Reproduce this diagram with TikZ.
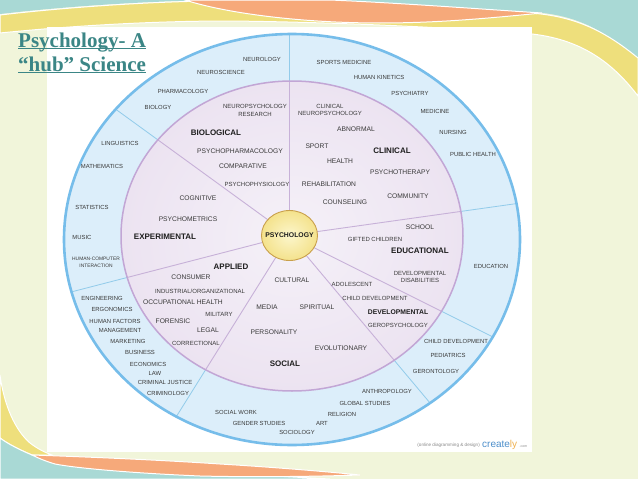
\documentclass[tikz,border=0pt]{standalone}
\usepackage{fontspec}
\setmainfont{Liberation Sans}
\newfontfamily\titlefont{Liberation Serif}
\usetikzlibrary{calc}
\definecolor{bgpale}{HTML}{F1F5DA}
\definecolor{teal1}{HTML}{A9D9D5}
\definecolor{orange1}{HTML}{F6A97A}
\definecolor{yellow1}{HTML}{EEDF7C}
\definecolor{titlecol}{HTML}{3B8686}
\definecolor{ringblue}{HTML}{DCEEFA}
\definecolor{ringblueline}{HTML}{76BDEA}
\definecolor{spokeblue}{HTML}{92CBEA}
\definecolor{innerlight}{HTML}{F5F1F8}
\definecolor{innerdark}{HTML}{ECE3F1}
\definecolor{ringpurpleline}{HTML}{C2A6D5}
\definecolor{spokepurple}{HTML}{C7B1D8}
\definecolor{hublight}{HTML}{FCF6CC}
\definecolor{hubdark}{HTML}{F4E28C}
\definecolor{hubline}{HTML}{C9A04C}
\definecolor{txt}{HTML}{3A3A3A}
\definecolor{txtdark}{HTML}{1E1E1E}
\definecolor{crblue}{HTML}{4D8FCB}
\definecolor{crorange}{HTML}{F0B251}
\definecolor{crgray}{HTML}{8A8A8A}
\tikzset{
  outerterm/.style={font=\fontsize{5.9}{7}\selectfont, text=txt, inner sep=0pt, align=center},
  tinyterm/.style={font=\fontsize{4.9}{7}\selectfont, text=txt, inner sep=0pt, align=center},
  innerterm/.style={font=\fontsize{6.7}{8}\selectfont, text=txt, inner sep=0pt, align=center},
  smallterm/.style={font=\fontsize{6}{7.6}\selectfont, text=txt, inner sep=0pt, align=center},
  category/.style={font=\bfseries\fontsize{8}{9}\selectfont, text=txtdark, inner sep=0pt},
  smallcategory/.style={font=\bfseries\fontsize{6.8}{8}\selectfont, text=txtdark, inner sep=0pt},
  hubtext/.style={font=\bfseries\fontsize{6.85}{8}\selectfont, text=txtdark, inner sep=0pt},
  spokeout/.style={draw=spokeblue, line width=0.8pt},
  spokein/.style={draw=spokepurple, line width=0.9pt},
  titlest/.style={font=\titlefont\bfseries\fontsize{21}{24}\selectfont, text=titlecol, inner sep=0pt},
  crsmall/.style={font=\fontsize{4.6}{5}\selectfont, text=crgray, inner sep=0pt},
  edge/.style={draw=white, line width=1pt},
}
\begin{document}
\begin{tikzpicture}[x=1pt,y=-1pt]
\useasboundingbox (0,0) rectangle (638,479);
\fill[bgpale] (0,0) rectangle (638,479);
% --- top decoration
\fill[teal1] (0,0) -- (638,0) -- (638,60) .. controls (605,30) and (575,14) .. (530,12) .. controls (420,6) and (300,1) .. (210,0) .. controls (130,2) and (60,7) .. (0,14) -- cycle;
\filldraw[fill=yellow1, edge] (0,15) .. controls (60,8) and (140,2) .. (210,1) .. controls (330,3) and (450,8) .. (530,13) .. controls (575,16) and (605,31) .. (638,58) -- (638,96) .. controls (615,66) and (585,40) .. (532,34) .. controls (430,26) and (320,22) .. (230,21) .. controls (150,21) and (70,26) .. (0,33) -- cycle;
\filldraw[fill=orange1, edge] (185,0) -- (330,0) .. controls (400,3) and (480,9) .. (542,13) .. controls (490,18) and (440,23) .. (380,23) .. controls (300,23) and (225,13) .. (185,0) -- cycle;
% --- bottom-left decoration
\filldraw[fill=yellow1, edge] (0,375) .. controls (4,405) and (15,430) .. (30,443) .. controls (38,449) and (44,452) .. (52,455) -- (32,455) .. controls (20,450) and (8,444) .. (0,438) -- cycle;
\filldraw[fill=teal1, edge] (0,438) .. controls (8,444) and (20,450) .. (32,455) .. controls (90,466) and (200,472) .. (330,479) -- (0,479) -- cycle;
\filldraw[fill=orange1, edge] (32,455) .. controls (90,457) and (160,460) .. (220,464) .. controls (270,467) and (320,471) .. (360,475) .. controls (300,477) and (240,477) .. (200,476) .. controls (130,473) and (75,468) .. (55,464) .. controls (45,461) and (38,458) .. (32,455) -- cycle;
% --- white panel
\fill[white] (47,27) rectangle (532,452);
% --- rings
\coordinate (hubc) at (289.5,235.5);
\coordinate (outc) at (292,239.5);
\coordinate (innc) at (292,236);
\fill[ringblue] (outc) ellipse [x radius=228pt, y radius=205.5pt];
\begin{scope}
  \clip (outc) ellipse [x radius=227pt, y radius=204.5pt];
  \foreach \a in {90,144,194.5,238,310,333.5,8} \draw[spokeout] (hubc) -- ++(-\a:320);
\end{scope}
\shade[inner color=innerlight, outer color=innerdark] (innc) ellipse [x radius=171pt, y radius=155pt];
\begin{scope}
  \clip (innc) ellipse [x radius=171pt, y radius=155pt];
  \foreach \a in {90,144,194.5,238,310,333.5,8} \draw[spokein] (hubc) -- ++(-\a:250);
\end{scope}
\draw[ringpurpleline, line width=1.5pt] (innc) ellipse [x radius=171pt, y radius=155pt];
\draw[ringblueline, line width=2.6pt] (outc) ellipse [x radius=228pt, y radius=205.5pt];
\shade[inner color=hublight, outer color=hubdark] (hubc) ellipse [x radius=28pt, y radius=25pt];
\draw[hubline, line width=0.9pt] (hubc) ellipse [x radius=28pt, y radius=25pt];
\node[hubtext] (hub) at (hubc) {PSYCHOLOGY};
% --- title
\node[titlest, anchor=base west] (t1) at (18,47) {Psychology- A};
\node[titlest, anchor=base west] (t2) at (18,71) {“hub” Science};
\draw[titlecol, line width=1.1pt] ([yshift=-1.6pt]t1.base west) -- ([yshift=-1.6pt]t1.base east);
\draw[titlecol, line width=1.1pt] ([yshift=-1.6pt]t2.base west) -- ([yshift=-1.6pt]t2.base east);
% --- outer ring terms
\node[outerterm] (o1) at (262,59) {NEUROLOGY};
\node[outerterm] (o2) at (221,72) {NEUROSCIENCE};
\node[outerterm] (o3) at (183,91) {PHARMACOLOGY};
\node[outerterm] (o4) at (158,107) {BIOLOGY};
\node[outerterm] (o5) at (344,62) {SPORTS MEDICINE};
\node[outerterm] (o6) at (379,77) {HUMAN KINETICS};
\node[outerterm] (o7) at (410,93) {PSYCHIATRY};
\node[outerterm] (o8) at (435,111) {MEDICINE};
\node[outerterm] (o9) at (453,132) {NURSING};
\node[outerterm] (o10) at (473,154) {PUBLIC HEALTH};
\node[outerterm] (o11) at (120,143) {LINGUISTICS};
\node[outerterm] (o12) at (102,166) {MATHEMATICS};
\node[outerterm] (o13) at (92,207) {STATISTICS};
\node[outerterm] (o14) at (82,237) {MUSIC};
\node[tinyterm] (o15) at (96,262.5) {HUMAN-COMPUTER\\INTERACTION};
\node[outerterm] (o16) at (102,298) {ENGINEERING};
\node[outerterm] (o17) at (112,309) {ERGONOMICS};
\node[outerterm] (o18) at (115,321) {HUMAN FACTORS};
\node[outerterm] (o19) at (120,330) {MANAGEMENT};
\node[outerterm] (o20) at (128,341) {MARKETING};
\node[outerterm] (o21) at (140,352) {BUSINESS};
\node[outerterm] (o22) at (148,364) {ECONOMICS};
\node[outerterm] (o23) at (155,373) {LAW};
\node[outerterm] (o24) at (165,382) {CRIMINAL JUSTICE};
\node[outerterm] (o25) at (168,393) {CRIMINOLOGY};
\node[outerterm] (o26) at (236,412) {SOCIAL WORK};
\node[outerterm] (o27) at (259,423) {GENDER STUDIES};
\node[outerterm] (o28) at (297,432) {SOCIOLOGY};
\node[outerterm] (o29) at (322,423) {ART};
\node[outerterm] (o30) at (342,414) {RELIGION};
\node[outerterm] (o31) at (365,403) {GLOBAL STUDIES};
\node[outerterm] (o32) at (387,391) {ANTHROPOLOGY};
\node[outerterm] (o33) at (456,341) {CHILD DEVELOPMENT};
\node[outerterm] (o34) at (448,355) {PEDIATRICS};
\node[outerterm] (o35) at (436,371) {GERONTOLOGY};
\node[outerterm] (o36) at (491,266) {EDUCATION};
% --- inner ring terms
\node[smallterm] (i1) at (255,110.5) {NEUROPSYCHOLOGY\\RESEARCH};
\node[category] (c1) at (216,133) {BIOLOGICAL};
\node[innerterm] (i2) at (240,151) {PSYCHOPHARMACOLOGY};
\node[innerterm] (i3) at (243,166) {COMPARATIVE};
\node[smallterm] (i4) at (257,184) {PSYCHOPHYSIOLOGY};
\node[smallterm] (i5) at (330,110) {CLINICAL\\NEUROPSYCHOLOGY};
\node[innerterm] (i6) at (356,129) {ABNORMAL};
\node[innerterm] (i7) at (317,146) {SPORT};
\node[category] (c2) at (392,151) {CLINICAL};
\node[innerterm] (i8) at (340,161) {HEALTH};
\node[innerterm] (i9) at (400,172) {PSYCHOTHERAPY};
\node[innerterm] (i10) at (329,184) {REHABILITATION};
\node[innerterm] (i11) at (408,196) {COMMUNITY};
\node[innerterm] (i12) at (345,202) {COUNSELING};
\node[innerterm] (i13) at (198,198) {COGNITIVE};
\node[innerterm] (i14) at (188,219) {PSYCHOMETRICS};
\node[category] (c3) at (165,237) {EXPERIMENTAL};
\node[category] (c4) at (231,267) {APPLIED};
\node[innerterm] (i15) at (191,277) {CONSUMER};
\node[smallterm] (i16) at (200,291) {INDUSTRIAL/ORGANIZATIONAL};
\node[innerterm] (i17) at (183,302) {OCCUPATIONAL HEALTH};
\node[smallterm] (i18) at (219,314) {MILITARY};
\node[innerterm] (i19) at (173,321) {FORENSIC};
\node[innerterm] (i20) at (208,330) {LEGAL};
\node[smallterm] (i21) at (196,343) {CORRECTIONAL};
\node[innerterm] (i22) at (292,280) {CULTURAL};
\node[innerterm] (i23) at (267,307) {MEDIA};
\node[innerterm] (i24) at (317,307) {SPIRITUAL};
\node[innerterm] (i25) at (274,332) {PERSONALITY};
\node[innerterm] (i26) at (341,348) {EVOLUTIONARY};
\node[category] (c5) at (285,364) {SOCIAL};
\node[smallterm] (i27) at (352,284) {ADOLESCENT};
\node[smallterm] (i28) at (375,298) {CHILD DEVELOPMENT};
\node[smallcategory] (c6) at (398,312) {DEVELOPMENTAL};
\node[smallterm] (i29) at (398,325) {GEROPSYCHOLOGY};
\node[innerterm] (i30) at (420,227) {SCHOOL};
\node[smallterm] (i31) at (375,239) {GIFTED CHILDREN};
\node[category] (c7) at (420,251) {EDUCATIONAL};
\node[smallterm] (i32) at (420,277) {DEVELOPMENTAL\\DISABILITIES};
% --- creately mark
\node[crsmall, anchor=base east] (cr1) at (480,446) {(online diagramming \& design)};
\node[anchor=base west, font=\fontsize{10}{10}\selectfont, inner sep=0pt] (cr2) at (482,447) {\textcolor{crblue}{create}\textcolor{crorange}{ly}};
\node[crsmall, anchor=base west, font=\fontsize{3.5}{4}\selectfont] (cr3) at ([xshift=2pt]cr2.base east) {.com};
\end{tikzpicture}
\end{document}
